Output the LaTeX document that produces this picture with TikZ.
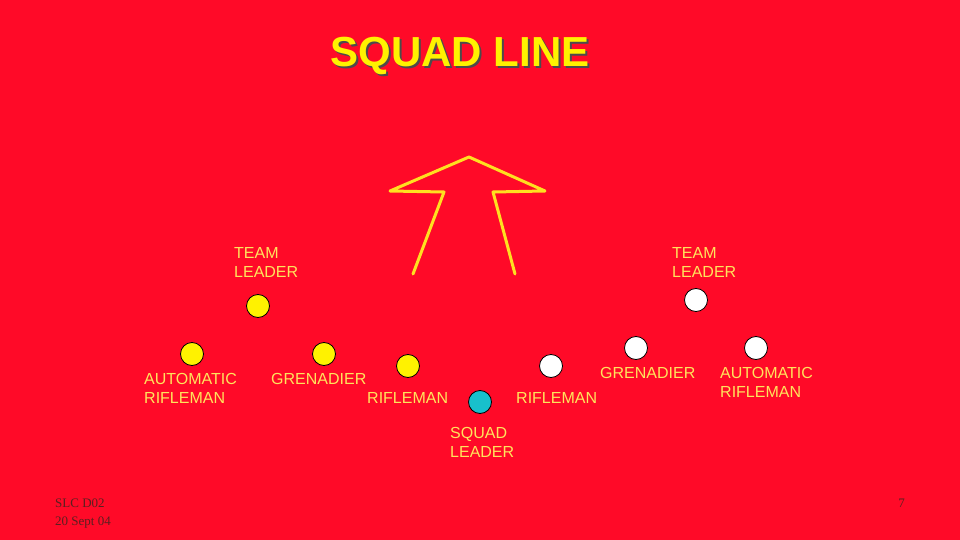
\documentclass[tikz,border=0pt]{standalone}
\usepackage{fontspec}
\setmainfont{Liberation Sans}
\newfontfamily\footfont{Liberation Serif}
\definecolor{slidered}{HTML}{FF0A28}
\definecolor{lbltext}{HTML}{FFE45C}
\definecolor{arrowyel}{HTML}{FFE020}
\definecolor{sqcyan}{HTML}{18C0CC}
\definecolor{footgray}{HTML}{5A2020}
\begin{document}
\begin{tikzpicture}[x=1pt, y=-1pt,
  every node/.style={inner sep=0pt},
  lbl/.style={anchor=north west, align=left, text=lbltext, font=\fontsize{16}{19}\selectfont},
  man/.style={circle, draw=black, thick, minimum size=23pt, fill=#1},
]

% Background
\fill[slidered] (0,0) rectangle (960,540);

% Title
\node[text=black!70, font=\bfseries\fontsize{42}{46}\selectfont] at (462,58) {SQUAD LINE};
\node[text=yellow, font=\bfseries\fontsize{42}{46}\selectfont] (title) at (460,56) {SQUAD LINE};

% Direction arrow
\draw[arrowyel, line width=3pt, line join=round, line cap=round]
  (413,274) -- (444,192) -- (390,191) -- (469,157) -- (545,191) -- (493,192) -- (515,274);

% Team one
\node[man=yellow] (tl1) at (258,306) {};
\node[man=yellow] (ar1) at (192,354) {};
\node[man=yellow] (gr1) at (324,354) {};
\node[man=yellow] (rf1) at (408,366) {};

% Squad leader
\node[man=sqcyan] (sl) at (480,402) {};

% Team two
\node[man=white] (rf2) at (551,366) {};
\node[man=white] (gr2) at (636,348) {};
\node[man=white] (tl2) at (696,300) {};
\node[man=white] (ar2) at (756,348) {};

% Labels
\node[lbl] (tl1l) at (234,247) {TEAM\\LEADER};
\node[lbl] (ar1l) at (144,373) {AUTOMATIC\\RIFLEMAN};
\node[lbl] (gr1l) at (271,373) {GRENADIER};
\node[lbl] (rf1l) at (367,392) {RIFLEMAN};
\node[lbl] (sll) at (450,427) {SQUAD\\LEADER};
\node[lbl] (rf2l) at (516,392) {RIFLEMAN};
\node[lbl] (gr2l) at (600,367) {GRENADIER};
\node[lbl] (tl2l) at (672,247) {TEAM\\LEADER};
\node[lbl] (ar2l) at (720,367) {AUTOMATIC\\RIFLEMAN};

% Footer
\node[anchor=north west, align=left, text=footgray, font=\footfont\fontsize{13}{18}\selectfont] (foot) at (55,499) {SLC D02\\20 Sept 04};
\node[anchor=north east, text=footgray, font=\footfont\fontsize{13}{18}\selectfont] (page) at (905,499) {7};
\end{tikzpicture}
\end{document}
